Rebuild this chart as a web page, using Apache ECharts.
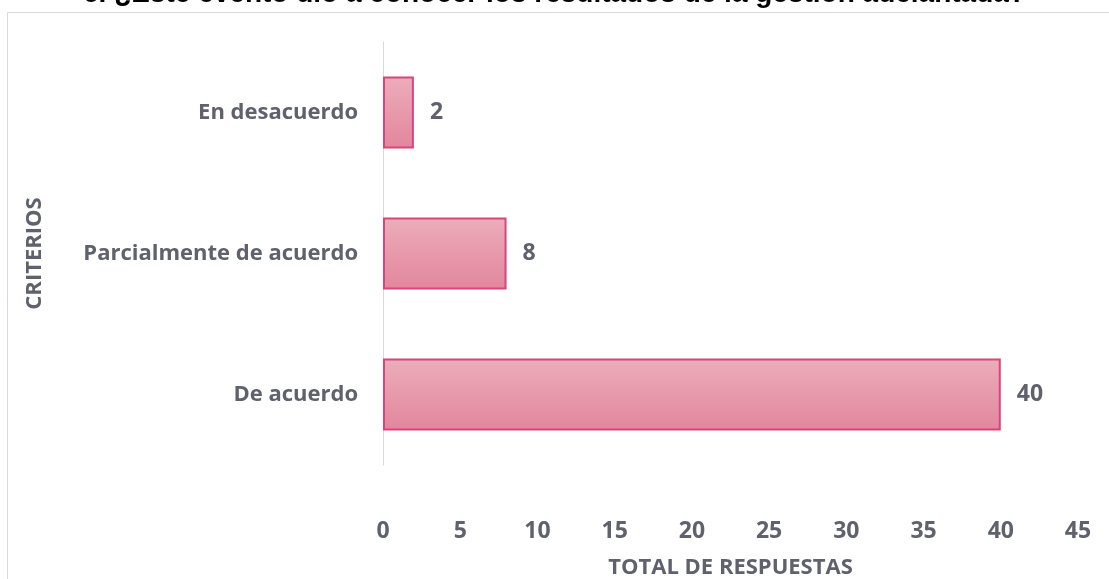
<!DOCTYPE html>
<html>
<head>
<meta charset="utf-8">
<script src="https://cdn.jsdelivr.net/npm/echarts@6/dist/echarts.min.js"></script>
<style>
  html, body { margin: 0; padding: 0; background: #fff; }
  #chart { width: 1109px; height: 579px; }
</style>
</head>
<body>
<div id="chart"></div>
<script>
// datos
const criterios = ['De acuerdo', 'Parcialmente de acuerdo', 'En desacuerdo']
const respuestas = [40, 8, 2]
const titulo = 'c. ¿Este evento dio a conocer los resultados de la gestión adelantada?'

const labelColor = '#5f626c'
const font = '"Open Sans", Lato, sans-serif'

const chart = echarts.init(document.getElementById('chart'))
chart.setOption({
  animation: false,
  title: {
    text: titulo,
    left: 'center',
    top: -25,
    textStyle: {
      fontFamily: 'Liberation Sans, Arial, sans-serif',
      fontWeight: 'bold',
      fontSize: 28,
      color: '#000'
    }
  },
  graphic: [{
    type: 'rect',
    shape: {x: 7.5, y: 12.5, width: 1120, height: 600},
    style: {fill: 'none', stroke: '#d9d9d9', lineWidth: 1},
    silent: true
  }],
  grid: {
    left: 383,
    right: 31,
    top: 42,
    bottom: 114,
    outerBoundsMode: 'none'
  },
  xAxis: {
    type: 'value',
    min: 0,
    max: 45,
    interval: 5,
    name: 'TOTAL DE RESPUESTAS',
    nameLocation: 'middle',
    nameGap: 92,
    nameTextStyle: {
      fontFamily: font,
      fontWeight: 'bold',
      fontSize: 22,
      color: labelColor
    },
    axisLine: {show: false},
    axisTick: {show: false},
    splitLine: {show: false},
    axisLabel: {
      margin: 55,
      fontFamily: font,
      fontWeight: 'bold',
      fontSize: 23,
      color: labelColor
    }
  },
  yAxis: {
    type: 'category',
    data: criterios,
    name: 'CRITERIOS',
    nameLocation: 'middle',
    nameGap: 337,
    nameRotate: 90,
    nameTextStyle: {
      fontFamily: font,
      fontWeight: 'bold',
      fontSize: 22,
      color: labelColor
    },
    axisLine: {show: true, lineStyle: {color: '#d9d9d9', width: 1}},
    axisTick: {show: false},
    axisLabel: {
      margin: 25,
      fontFamily: font,
      fontWeight: 'bold',
      fontSize: 22,
      color: labelColor
    }
  },
  series: [{
    type: 'bar',
    data: respuestas,
    barCategoryGap: '49%',
    itemStyle: {
      color: new echarts.graphic.LinearGradient(0, 0, 0, 1, [
        {offset: 0, color: '#ecadbb'},
        {offset: 1, color: '#e2869d'}
      ]),
      borderColor: '#d8457a',
      borderWidth: 2
    },
    label: {
      show: true,
      position: 'right',
      distance: 16,
      fontFamily: font,
      fontWeight: 'bold',
      fontSize: 23,
      color: labelColor
    }
  }]
})
</script>
</body>
</html>
